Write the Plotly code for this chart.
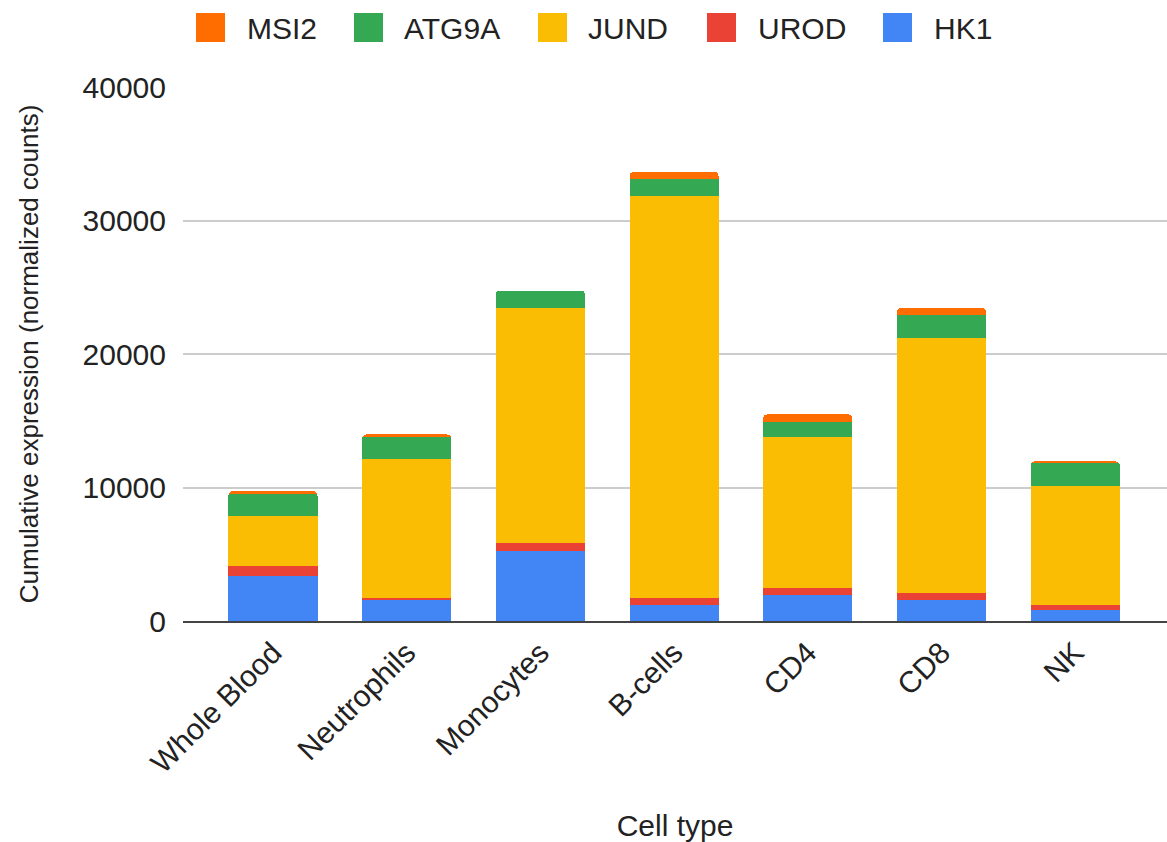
import plotly.graph_objects as go

# Cell types on the x axis
cell_types = ["Whole Blood", "Neutrophils", "Monocytes", "B-cells", "CD4", "CD8", "NK"]

# Normalized counts per gene (stacked bottom to top: HK1, UROD, JUND, ATG9A, MSI2)
hk1 = [3400, 1550, 5250, 1175, 1925, 1550, 825]
urod = [750, 175, 575, 575, 575, 575, 375]
jund = [3700, 10400, 17625, 30050, 11300, 19100, 8900]
atg9a = [1700, 1675, 1300, 1300, 1125, 1675, 1700]
msi2 = [180, 175, 0, 525, 550, 525, 150]

y_ticks = [0, 10000, 20000, 30000, 40000]

series = [
    ("HK1", hk1, "#4285F4"),
    ("UROD", urod, "#EA4335"),
    ("JUND", jund, "#FBBC04"),
    ("ATG9A", atg9a, "#34A853"),
    ("MSI2", msi2, "#FF6D01"),
]

FONT = "Liberation Sans, Arial, sans-serif"
FS = 30
TXT = "#222222"

fig = go.Figure()
for name, vals, color in series:
    fig.add_trace(go.Bar(
        x=cell_types, y=vals, name=name,
        marker=dict(color=color, line=dict(width=0)),
        showlegend=False,
    ))

# Plot-area geometry in pixels (used to place the custom legend)
W, H = 1167, 842
L, R, T, B = 183, 0, 87, 221
pw, ph = W - L - R, H - T - B


def px_x(x):
    return (x - L) / pw


def px_y(y):
    return (H - B - y) / ph


# Legend across the top, in reverse stacking order
legend_items = [
    ("MSI2", "#FF6D01", 196, 245),
    ("ATG9A", "#34A853", 354, 402),
    ("JUND", "#FBBC04", 538, 586),
    ("UROD", "#EA4335", 707, 756),
    ("HK1", "#4285F4", 883, 932),
]
shapes = []
annotations = []
for label, color, sx, tx in legend_items:
    shapes.append(dict(
        type="rect", xref="paper", yref="paper",
        x0=px_x(sx), x1=px_x(sx + 29), y0=px_y(42), y1=px_y(13),
        fillcolor=color, line=dict(width=0), layer="above",
    ))
    annotations.append(dict(
        text=label, xref="paper", yref="paper",
        x=px_x(tx), y=px_y(28), xanchor="left", yanchor="middle",
        showarrow=False, font=dict(family=FONT, size=FS, color=TXT),
    ))

fig.update_layout(
    width=W, height=H,
    margin=dict(l=L, r=R, t=T, b=B, autoexpand=False),
    barmode="stack",
    bargap=0.334,
    barcornerradius=4,
    plot_bgcolor="white",
    paper_bgcolor="white",
    font=dict(family=FONT, size=FS, color=TXT),
    shapes=shapes,
    annotations=annotations,
    showlegend=False,
)

fig.update_xaxes(
    range=[-0.673, 6.687],
    tickangle=-45,
    tickfont=dict(family=FONT, size=FS, color=TXT),
    showgrid=False,
    showline=True, linecolor="#444444", linewidth=2,
    ticks="", automargin=False,
    title=dict(text="Cell type", font=dict(family=FONT, size=FS, color=TXT), standoff=42),
)

fig.update_yaxes(
    range=[0, 40000],
    tickvals=y_ticks,
    ticktext=[str(v) for v in y_ticks],
    tickfont=dict(family=FONT, size=FS, color=TXT),
    showgrid=True, gridcolor="#cccccc", gridwidth=2,
    zeroline=False, showline=False,
    ticks="", ticklabelstandoff=16, automargin=False,
    title=dict(text="Cumulative expression (normalized counts)",
               font=dict(family=FONT, size=26, color=TXT), standoff=36),
)

fig.write_html("out.html")
